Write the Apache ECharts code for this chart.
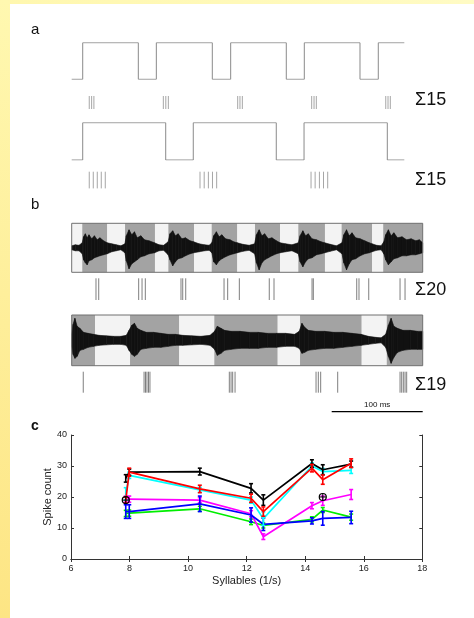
<!DOCTYPE html>
<html><head><meta charset="utf-8">
<script src="https://cdn.jsdelivr.net/npm/echarts@6/dist/echarts.min.js"></script>
<style>html,body{margin:0;padding:0;background:#fff}#c{width:474px;height:618px}</style>
</head><body><div id="c"></div>
<script>
// ---------- Panel a : stimulus envelopes (time in ms) ----------
const aTrace1Times  = [0, 12.1, 73.2, 93.0, 154.5, 174.7, 235.8, 255.6, 316.8, 336.9, 365.5];
const aTrace1Levels = [0, 1, 0, 1, 0, 1, 0, 1, 0, 1, 1];
const aTrace2Times  = [0, 12.1, 103.3, 133.6, 224.8, 255.3, 346.8, 365.5];
const aTrace2Levels = [0, 1, 0, 1, 0, 1, 0, 0];
const aSpikes1 = [19.3, 21.9, 24.4, 100.7, 103.4, 106.2, 182.4, 184.9, 187.5, 263.7, 266.3, 268.8, 345.1, 347.6, 350.1];
const aSpikes2 = [19.3, 23.7, 28.1, 32.5, 36.9, 141.0, 145.6, 150.2, 154.7, 159.3, 263.0, 267.5, 272.2, 276.7, 281.3];
const spikeTotals = ['Σ15', 'Σ15', 'Σ20', 'Σ19'];

// ---------- Panel b : natural song, syllable boundaries (ms) ----------
const bBox1Edges = [0, 11.6, 39.1, 58.6, 91.5, 106.2, 134.4, 153.8, 182, 201.4, 228.9, 249, 278.3, 296.6, 330.2, 342.3, 385.7];
const bBox1StartsDark = 0;
const bBox2Edges = [0, 25.6, 64.1, 118.2, 156.7, 226.4, 250.9, 318.7, 346.2, 385.7];
const bBox2StartsDark = 1;
// oscillogram envelope: [t, upper, lower]
const bWave1 = [[0,2,2],[4,3,3],[8,2.5,3],[11.6,5,6],[13,11,12],[15,14,15],[17,10,17],[19,13,13],[22,9,12],[25,12,10],[28,8,9],[31,10,8],[35,7,7],[39,5,6],[44,4,4],[49,3,3],[54,2,2],[58.5,4,5],[60,12,13],[63,18,21],[66,13,16],[69,16,14],[72,10,12],[76,12,9],[80,8,8],[85,7,6],[91,5,5],[96,3,3],[101,2.5,2.5],[106,6,7],[108,14,12],[111,17,18],[114,12,14],[117,14,11],[121,9,10],[125,10,8],[130,7,6],[134,6,5],[140,4,4],[146,3,3],[151,2.5,2.5],[154,5,5],[156,12,14],[159,16,17],[162,11,13],[165,13,11],[169,9,9],[174,8,7],[178,6,6],[182,5,5],[188,3.5,3.5],[195,2.5,2.5],[201,4,6],[203,13,15],[206,18,22],[209,12,15],[212,14,12],[216,9,10],[220,10,8],[225,7,6],[229,5,5],[235,4,4],[242,3,3],[249,5,6],[251,12,14],[254,17,19],[257,12,14],[260,14,11],[264,9,10],[269,8,7],[274,6,6],[278,5,5],[284,3.5,3.5],[291,2,2],[297,5,6],[299,13,15],[302,18,22],[305,12,16],[308,15,12],[312,10,11],[317,9,8],[322,7,6],[327,5,5],[330,4,4],[335,2.5,2.5],[340,2,2],[343,6,6],[345,13,12],[348,18,17],[351,12,14],[354,15,11],[358,10,10],[363,11,8],[368,8,8],[373,9,7],[378,7,7],[382,8,6],[385.7,5,5]];
const bWave2 = [[0,6,6],[1.5,16,14],[3.5,22,18],[6,14,16],[9,12,10],[13,8,9],[18,7,7],[24,6,6],[30,5,5],[38,4.5,4.5],[46,4,4],[54,4,4],[60,5,5],[63,10,10],[66,15,14],[69,17,16],[72,12,14],[76,10,9],[82,8,8],[90,8,7],[98,7,7],[106,6,6],[114,6,5],[122,5,5],[132,4.5,4.5],[142,4,4],[152,5,5],[157,9,9],[160,14,15],[164,12,13],[168,10,10],[175,9,9],[185,9,8],[195,8,8],[205,8,8],[215,7,7],[225,7,7],[235,7,6],[245,6,6],[250,9,8],[253,17,13],[256,13,12],[260,10,10],[268,9,9],[278,9,8],[288,8,8],[298,8,7],[308,7,6],[318,6,5],[326,4,4],[334,3,3],[340,2.5,2.5],[345,6,7],[348,15,16],[351,22,23],[354,14,17],[358,12,12],[364,10,10],[372,10,9],[380,9,9],[385.7,9,9]];
const bSpikes1 = [26.7, 29.7, 73.6, 77.3, 80.9, 120.1, 122.0, 125.3, 167.4, 171.4, 184.2, 217.1, 222.3, 264.1, 265.5, 313.2, 315.7, 326.4, 360.8, 366.3];
const bSpikes2 = [12.7, 79.5, 81.1, 82.7, 84.4, 86.0, 173.2, 175.1, 176.9, 179.5, 268.5, 271.0, 273.6, 292.3, 360.8, 362.6, 364.4, 366.3, 368.1];
const scaleBar = [285.7, 385.7];
const scaleLabel = '100 ms';

// ---------- Panel c ----------
const stimX = [7.87, 7.99, 10.4, 12.15, 12.57, 14.23, 14.6, 15.57];
const cGreen = [14.7, 14.8, 16.2, 12.0, 10.8, 12.8, 15.8, 13.5];
const cGreenErr = [1.0, 1.0, 0.8, 0.9, 0.8, 0.8, 0.8, 1.0];
const cMagenta = [19.3, 19.3, 19.0, 14.6, 7.2, 17.2, 18.8, 20.8];
const cMagentaErr = [1.0, 1.0, 0.8, 1.0, 0.9, 1.0, 1.5, 1.6];
const cBlue = [15.3, 15.3, 17.8, 14.2, 11.2, 12.3, 13.1, 13.4];
const cBlueErr = [2.2, 2.2, 2.5, 2.3, 2.0, 1.0, 2.2, 2.0];
const cCyan = [21.0, 27.0, 22.3, 19.0, 13.0, 30.0, 28.2, 28.6];
const cCyanErr = [2.0, 1.0, 0.8, 1.0, 2.2, 1.0, 1.0, 1.0];
const cBlack = [26.0, 28.0, 28.2, 22.8, 19.0, 30.8, 28.8, 30.6];
const cBlackErr = [1.2, 1.0, 1.1, 1.5, 1.7, 1.2, 1.6, 1.0];
const cRed = [19.0, 28.0, 22.6, 19.6, 15.3, 29.3, 25.6, 30.9];
const cRedErr = [1.0, 1.3, 1.2, 1.3, 1.5, 1.2, 1.5, 1.4];
const circleX = [7.87, 14.6];
const circleY = [19.0, 20.0];

const FONT = 'Liberation Sans, Arial, Helvetica, sans-serif';
const T_MAX = 385.7;

// ---------- layout of strips (pixels) ----------
const L = 71.7, W = 351;
const strips = [
  {top: 42.7, h: 36.6},  // 0 a trace 1
  {top: 96,   h: 13},    // 1 a spikes 1
  {top: 122.7,h: 37.3},  // 2 a trace 2
  {top: 171.7,h: 16.7},  // 3 a spikes 2
  {top: 223.3,h: 49},    // 4 b box 1
  {top: 278.3,h: 21.7},  // 5 b spikes 1
  {top: 315,  h: 50.7},  // 6 b box 2
  {top: 371.7,h: 21},    // 7 b spikes 2
  {top: 396.7,h: 15}     // 8 scale bar
];
const grids = [], xAxes = [], yAxes = [], series = [];
strips.forEach((s, i) => {
  grids.push({left: L, top: s.top, width: W, height: s.h, show: false});
  xAxes.push({type: 'value', gridIndex: i, min: 0, max: T_MAX, show: false});
  const wave = (i === 4 || i === 6);
  yAxes.push({type: 'value', gridIndex: i, min: wave ? -s.h / 2 : 0, max: wave ? s.h / 2 : 1, show: false});
});
// panel c grid
grids.push({left: 71, top: 435, width: 351.3, height: 124, show: false});
const CI = 9;
const axLine = {lineStyle: {color: '#333', width: 1}};
xAxes.push({type: 'value', gridIndex: CI, min: 6, max: 18, interval: 2, position: 'bottom',
  axisLine: axLine, axisTick: {inside: true, length: 3, lineStyle: {color: '#333'}},
  axisLabel: {fontFamily: FONT, fontSize: 9, color: '#222', margin: 5},
  splitLine: {show: false},
  name: 'Syllables (1/s)', nameLocation: 'middle', nameGap: 16, nameMoveOverlap: false,
  nameTextStyle: {fontFamily: FONT, fontSize: 11, color: '#222'}});
xAxes.push({type: 'value', gridIndex: CI, min: 6, max: 18, interval: 2, position: 'top',
  axisLine: axLine, axisTick: {inside: true, length: 3, lineStyle: {color: '#333'}},
  axisLabel: {show: false}, splitLine: {show: false}});
yAxes.push({type: 'value', gridIndex: CI, min: 0, max: 40, interval: 10, position: 'left',
  axisLine: axLine, axisTick: {inside: true, length: 3, lineStyle: {color: '#333'}},
  axisLabel: {fontFamily: FONT, fontSize: 9, color: '#222', margin: 4},
  splitLine: {show: false},
  name: 'Spike count', nameLocation: 'middle', nameGap: 18, nameRotate: 90, nameMoveOverlap: false,
  nameTextStyle: {fontFamily: FONT, fontSize: 11, color: '#222'}});
yAxes.push({type: 'value', gridIndex: CI, min: 0, max: 40, interval: 10, position: 'right',
  axisLine: axLine, axisTick: {inside: true, length: 3, lineStyle: {color: '#333'}},
  axisLabel: {show: false}, splitLine: {show: false}});

// ---------- helpers ----------
function stepSeries(idx, times, levels) {
  return {type: 'line', xAxisIndex: idx, yAxisIndex: idx, step: 'end', symbol: 'none', silent: true,
    lineStyle: {color: '#8a8a8a', width: 1}, data: times.map((t, k) => [t, levels[k]])};
}
function spikeSeries(idx, arr, color) {
  return {type: 'custom', xAxisIndex: idx, yAxisIndex: idx, silent: true,
    data: arr.map(t => [t, 0]),
    renderItem: (p, api) => {
      const a = api.coord([api.value(0), 0]), b = api.coord([api.value(0), 1]);
      return {type: 'line', shape: {x1: a[0], y1: a[1], x2: b[0], y2: b[1]}, style: {stroke: color, lineWidth: 1}};
    }};
}
function boxSeries(idx, edges, startDark, hh) {
  const segs = [];
  for (let k = 0; k < edges.length - 1; k++) segs.push([edges[k], edges[k + 1], (k + startDark) % 2]);
  return {type: 'custom', xAxisIndex: idx, yAxisIndex: idx, silent: true, z: 1, data: segs,
    renderItem: (p, api) => {
      const a = api.coord([api.value(0), hh]), b = api.coord([api.value(1), -hh]);
      return {type: 'rect', shape: {x: a[0], y: a[1], width: b[0] - a[0], height: b[1] - a[1]},
        style: {fill: api.value(2) ? '#a3a3a3' : '#f3f3f3'}};
    }};
}
function frameSeries(idx, edges, hh) {
  return {type: 'custom', xAxisIndex: idx, yAxisIndex: idx, silent: true, z: 5,
    data: [[edges[0], edges[edges.length - 1]]],
    renderItem: (p, api) => {
      const a = api.coord([api.value(0), hh]), b = api.coord([api.value(1), -hh]);
      return {type: 'rect', shape: {x: a[0], y: a[1], width: b[0] - a[0], height: b[1] - a[1]},
        style: {fill: 'none', stroke: '#707070', lineWidth: 1}};
    }};
}
function waveSeries(idx, env) {
  const segs = [];
  for (let k = 0; k < env.length - 1; k++) {
    segs.push([env[k][0], env[k][1], env[k][2], env[k + 1][0], env[k + 1][1], env[k + 1][2]]);
  }
  return {type: 'custom', xAxisIndex: idx, yAxisIndex: idx, silent: true, z: 3, data: segs,
    renderItem: (p, api) => {
      const t0 = api.value(0), u0 = api.value(1), l0 = api.value(2);
      const t1 = api.value(3), u1 = api.value(4), l1 = api.value(5);
      const pts = [api.coord([t0, u0]), api.coord([t1, u1]), api.coord([t1, -l1]), api.coord([t0, -l0])];
      return {type: 'polygon', shape: {points: pts}, style: {fill: '#111', stroke: '#111', lineWidth: 0.6}};
    }};
}

// panel a
series.push(stepSeries(0, aTrace1Times, aTrace1Levels));
series.push(spikeSeries(1, aSpikes1, '#a6a6a6'));
series.push(stepSeries(2, aTrace2Times, aTrace2Levels));
series.push(spikeSeries(3, aSpikes2, '#a6a6a6'));
// panel b
series.push(boxSeries(4, bBox1Edges, bBox1StartsDark, strips[4].h / 2));
series.push(waveSeries(4, bWave1));
series.push(frameSeries(4, bBox1Edges, strips[4].h / 2));
series.push(spikeSeries(5, bSpikes1, '#7f7f7f'));
series.push(boxSeries(6, bBox2Edges, bBox2StartsDark, strips[6].h / 2));
series.push(waveSeries(6, bWave2));
series.push(frameSeries(6, bBox2Edges, strips[6].h / 2));
series.push(spikeSeries(7, bSpikes2, '#7f7f7f'));
series.push({type: 'custom', xAxisIndex: 8, yAxisIndex: 8, silent: true, data: [[scaleBar[0], scaleBar[1]]],
  renderItem: (p, api) => {
    const a = api.coord([api.value(0), 0]), b = api.coord([api.value(1), 0]);
    return {type: 'group', children: [
      {type: 'line', shape: {x1: a[0], y1: a[1], x2: b[0], y2: b[1]}, style: {stroke: '#000', lineWidth: 1.2}},
      {type: 'text', style: {text: scaleLabel, x: (a[0] + b[0]) / 2, y: a[1] - 3, align: 'center', verticalAlign: 'bottom',
        font: '8px ' + FONT, fill: '#111'}}
    ]};
  }});

// panel c
const cSeries = [
  [cGreen, cGreenErr, '#00ee00'],
  [cMagenta, cMagentaErr, '#ff00ff'],
  [cBlue, cBlueErr, '#0000ff'],
  [cCyan, cCyanErr, '#00ffff'],
  [cBlack, cBlackErr, '#000000'],
  [cRed, cRedErr, '#ff0000']
];
const XI = 9, YI = 9;
cSeries.forEach(([vals, errs, col], k) => {
  series.push({type: 'line', xAxisIndex: XI, yAxisIndex: YI, symbol: 'none', silent: true, z: 3 + k * 0.1,
    lineStyle: {color: col, width: 1.7}, data: stimX.map((x, j) => [x, vals[j]])});
  series.push({type: 'custom', xAxisIndex: XI, yAxisIndex: YI, silent: true, z: 3 + k * 0.1,
    data: stimX.map((x, j) => [x, vals[j] - errs[j], vals[j] + errs[j]]),
    renderItem: (p, api) => {
      const lo = api.coord([api.value(0), api.value(1)]), hi = api.coord([api.value(0), api.value(2)]);
      const c = 2;
      const st = {stroke: col, lineWidth: 1.6};
      return {type: 'group', children: [
        {type: 'line', shape: {x1: lo[0], y1: lo[1], x2: hi[0], y2: hi[1]}, style: st},
        {type: 'line', shape: {x1: lo[0] - c, y1: lo[1], x2: lo[0] + c, y2: lo[1]}, style: st},
        {type: 'line', shape: {x1: hi[0] - c, y1: hi[1], x2: hi[0] + c, y2: hi[1]}, style: st}
      ]};
    }});
});
series.push({type: 'custom', xAxisIndex: XI, yAxisIndex: YI, silent: true, z: 6,
  data: circleX.map((x, j) => [x, circleY[j]]),
  renderItem: (p, api) => {
    const c = api.coord([api.value(0), api.value(1)]);
    const r = 3.5, st = {stroke: '#000', lineWidth: 1.2, fill: 'none'};
    return {type: 'group', children: [
      {type: 'circle', shape: {cx: c[0], cy: c[1], r: r}, style: st},
      {type: 'line', shape: {x1: c[0] - r, y1: c[1], x2: c[0] + r, y2: c[1]}, style: {stroke: '#000', lineWidth: 1}},
      {type: 'line', shape: {x1: c[0], y1: c[1] - r, x2: c[0], y2: c[1] + r}, style: {stroke: '#000', lineWidth: 1}}
    ]};
  }});

const chart = echarts.init(document.getElementById('c'), null, {renderer: 'canvas'});
chart.setOption({
  animation: false,
  backgroundColor: '#ffffff',
  graphic: [
    {type: 'rect', left: 0, top: 0, z: -10, shape: {width: 474, height: 4},
      style: {fill: new echarts.graphic.LinearGradient(0, 0, 1, 0, [{offset: 0, color: '#fff7ae'}, {offset: 1, color: '#fffbc4'}])}},
    {type: 'rect', left: 0, top: 0, z: -10, shape: {width: 10, height: 618},
      style: {fill: new echarts.graphic.LinearGradient(0, 0, 0, 1, [{offset: 0, color: '#fff8b0'}, {offset: 1, color: '#fde584'}])}},
    {type: 'text', left: 31, top: 22, style: {text: 'a', font: '15px ' + FONT, fill: '#111'}},
    {type: 'text', left: 31, top: 197, style: {text: 'b', font: '15px ' + FONT, fill: '#111'}},
    {type: 'text', left: 31, top: 419, style: {text: 'c', font: 'bold 14px ' + FONT, fill: '#111'}},
    {type: 'text', left: 415, top: 91, style: {text: spikeTotals[0], font: '18px ' + FONT, fill: '#111'}},
    {type: 'text', left: 415, top: 171, style: {text: spikeTotals[1], font: '18px ' + FONT, fill: '#111'}},
    {type: 'text', left: 415, top: 281, style: {text: spikeTotals[2], font: '18px ' + FONT, fill: '#111'}},
    {type: 'text', left: 415, top: 376, style: {text: spikeTotals[3], font: '18px ' + FONT, fill: '#111'}}
  ],
  grid: grids, xAxis: xAxes, yAxis: yAxes, series: series
});
</script></body></html>
